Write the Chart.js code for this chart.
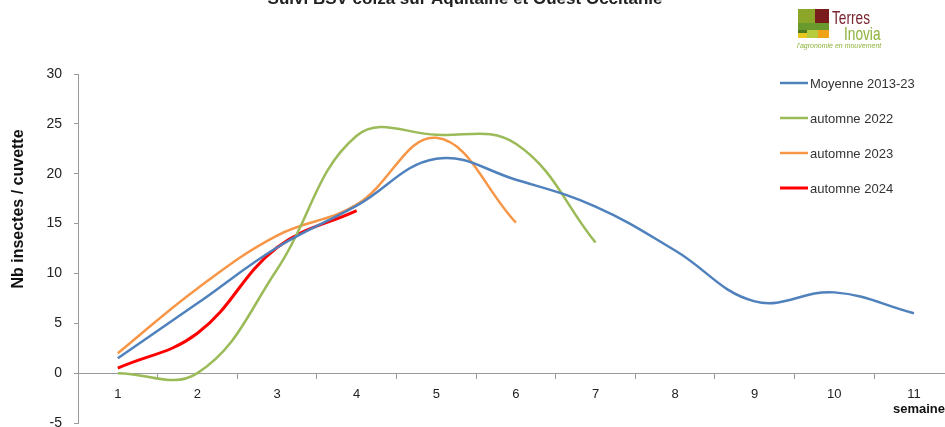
<!DOCTYPE html>
<html>
<head>
<meta charset="utf-8">
<script src="https://cdn.jsdelivr.net/npm/chart.js@4.4.1/dist/chart.umd.min.js"></script>
<style>
  html, body { margin: 0; padding: 0; background: #fff; }
  #wrap { width: 945px; height: 427px; }
</style>
</head>
<body>
<div id="wrap"><canvas id="bsvChart" width="945" height="427"></canvas></div>
<script>
// semaines 1..11
const weeks = [1, 2, 3, 4, 5, 6, 7, 8, 9, 10, 11];
const seriesNames = ['Moyenne 2013-23', 'automne 2022', 'automne 2023', 'automne 2024'];
const moyenne = [1.5, 7.0, 12.6, 16.8, 21.5, 19.4, 16.7, 12.3, 7.2, 8.1, 6.0];
const automne2022 = [0.0, 0.0, 10.4, 23.8, 23.9, 23.0, 13.1];
const automne2023 = [2.0, 8.5, 13.8, 16.9, 23.6, 15.1];
const automne2024 = [0.5, 4.0, 12.6, 16.3];
const yTicks = [-5, 0, 5, 10, 15, 20, 25, 30];

const colors = ['#4F81BD', '#9BBB59', '#F79646', '#FF0000'];
const widths = [2.5, 2.5, 2.5, 3];

function toPoints(values) {
    return values.map((v, i) => ({ x: weeks[i], y: v }));
}

const allSeries = [moyenne, automne2022, automne2023, automne2024];

// title, legend and logo are painted by hand
const decorPlugin = {
    id: 'decor',
    beforeDraw(chart) {
        const c = chart.ctx;
        c.save();
        c.fillStyle = '#fff';
        c.fillRect(0, 0, chart.width, chart.height);
        c.restore();
    },
    afterDraw(chart) {
        const c = chart.ctx;
        c.save();

        // main title (cut off at the top)
        c.fillStyle = '#222';
        c.font = 'bold 17px "Liberation Sans", Arial, sans-serif';
        c.textAlign = 'center';
        c.textBaseline = 'alphabetic';
        c.fillText('Suivi BSV colza sur Aquitaine et Ouest Occitanie', 465, 4);

        // y axis title
        c.save();
        c.translate(19, 209);
        c.rotate(-Math.PI / 2);
        c.font = 'bold 16px "Liberation Sans", Arial, sans-serif';
        c.textAlign = 'center';
        c.textBaseline = 'middle';
        c.fillStyle = '#111';
        c.fillText('Nb insectes / cuvette', 0, 0);
        c.restore();

        // legend
        chart.data.datasets.forEach((ds, i) => {
            const y = 83 + i * 35;
            c.strokeStyle = ds.borderColor;
            c.lineWidth = ds.borderWidth;
            c.beginPath();
            c.moveTo(780, y);
            c.lineTo(808, y);
            c.stroke();
            c.fillStyle = '#333';
            c.font = '13px "Liberation Sans", Arial, sans-serif';
            c.textAlign = 'left';
            c.textBaseline = 'middle';
            c.fillText(ds.label, 810, y + 1);
        });

        // logo Terres Inovia
        c.fillStyle = '#8CA62A'; c.fillRect(798, 9, 17, 14);
        c.fillStyle = '#7B1C1C'; c.fillRect(815, 9, 14, 14);
        c.fillStyle = '#6A9A2E'; c.fillRect(798, 23, 31, 7);
        c.fillStyle = '#E8C81F'; c.fillRect(798, 30, 9, 8);
        c.fillStyle = '#4E7A1E'; c.fillRect(798, 30, 9, 3);
        c.fillStyle = '#B7CC3C'; c.fillRect(807, 30, 11, 8);
        c.fillStyle = '#F0A218'; c.fillRect(818, 30, 11, 8);
        c.textAlign = 'left';
        c.textBaseline = 'alphabetic';
        c.font = '19px "Liberation Sans", Arial, sans-serif';
        c.save();
        c.translate(832, 24);
        c.scale(0.72, 1);
        c.fillStyle = '#7A2430';
        c.fillText('Terres', 0, 0);
        c.restore();
        c.save();
        c.translate(844, 40);
        c.scale(0.72, 1);
        c.fillStyle = '#8DB33A';
        c.fillText('Inovia', 0, 0);
        c.restore();
        c.fillStyle = '#8DB33A';
        c.font = 'italic 7px "Liberation Sans", Arial, sans-serif';
        c.fillText("l'agronomie en mouvement", 797, 48);

        c.restore();
    }
};

const ctx = document.getElementById('bsvChart').getContext('2d');

const chart = new Chart(ctx, {
    type: 'line',
    data: {
        datasets: allSeries.map((vals, i) => ({
            label: seriesNames[i],
            data: toPoints(vals),
            borderColor: colors[i],
            backgroundColor: colors[i],
            borderWidth: widths[i],
            pointRadius: 0,
            tension: 0.4,
            fill: false,
            clip: false
        }))
    },
    options: {
        responsive: false,
        devicePixelRatio: 1,
        animation: false,
        layout: {
            padding: { top: 74, bottom: 4, left: 0, right: 0 }
        },
        plugins: {
            legend: { display: false },
            title: { display: false },
            tooltip: { enabled: false }
        },
        scales: {
            x: {
                type: 'linear',
                position: { y: 0 },
                min: 0.5,
                max: 11.39,
                afterBuildTicks: (scale) => {
                    const t = [];
                    weeks.forEach((w) => {
                        t.push({ value: w });
                        if (w < weeks[weeks.length - 1]) t.push({ value: w + 0.5 });
                    });
                    scale.ticks = t;
                },
                border: { color: '#9a9a9a', width: 1 },
                grid: {
                    drawOnChartArea: false,
                    drawTicks: true,
                    tickLength: 5,
                    color: (c) => (c.tick && Number.isInteger(c.tick.value)) ? 'rgba(0,0,0,0)' : '#9a9a9a'
                },
                ticks: {
                    autoSkip: false,
                    maxRotation: 0,
                    padding: 8,
                    color: '#222',
                    font: { family: '"Liberation Sans", Arial, sans-serif', size: 13 },
                    callback: (v) => Number.isInteger(v) ? String(v) : ''
                },
                title: {
                    display: true,
                    text: 'semaine',
                    align: 'end',
                    color: '#111',
                    font: { family: '"Liberation Sans", Arial, sans-serif', size: 13, weight: 'bold' },
                    padding: { top: -8, bottom: 0 }
                }
            },
            y: {
                min: -5,
                max: 30,
                afterFit: (scale) => {
                    scale.width = 78;
                    scale.paddingTop = 0;
                    scale.paddingBottom = 0;
                },
                afterBuildTicks: (scale) => {
                    scale.ticks = yTicks.map((v) => ({ value: v }));
                },
                border: { color: '#9a9a9a', width: 1 },
                grid: {
                    drawOnChartArea: false,
                    drawTicks: true,
                    tickLength: 4,
                    color: '#9a9a9a'
                },
                ticks: {
                    padding: 12,
                    color: '#222',
                    font: { family: '"Liberation Sans", Arial, sans-serif', size: 14 }
                }
            }
        }
    },
    plugins: [decorPlugin]
});
</script>
</body>
</html>
